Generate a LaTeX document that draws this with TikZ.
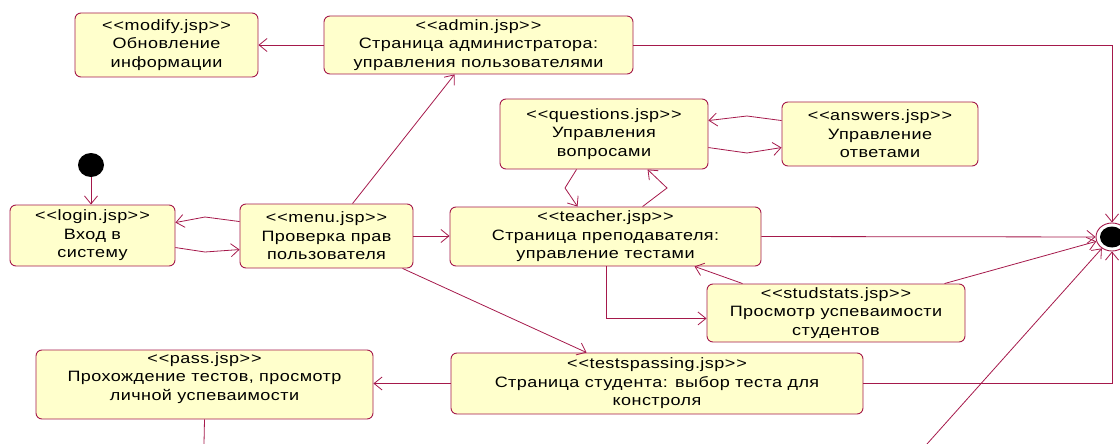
\documentclass[tikz,border=0pt]{standalone}
\usepackage{fontspec}
\setmainfont[Ligatures={NoCommon},Mapping=,FakeStretch=1.2,LetterSpace=3]{Liberation Sans}
\usetikzlibrary{arrows.meta,shapes.geometric,calc}
\definecolor{umlred}{RGB}{165,25,75}
\definecolor{umlfill}{RGB}{255,255,204}
\newcommand{\stereo}[1]{<\kern1pt<#1>\kern1pt>}
\begin{document}
\begin{tikzpicture}[x=1pt,y=-1pt,
  statebox/.style={draw=umlred, fill=umlfill, rounded corners=6pt, line width=0.9pt,
    align=center, inner sep=0pt, font=\fontsize{15}{18.5}\selectfont},
  conn/.style={draw=umlred, line width=0.8pt},
  arr/.style={conn, -{Straight Barb[length=8pt,width=13pt,line width=0.8pt]}}]
\useasboundingbox (0,0) rectangle (1120,444);

\node[statebox, minimum width=183pt, minimum height=64pt] (modify) at (166.5,45)
  {\stereo{modify.jsp}\\Обновление\\информации};
\node[statebox, minimum width=309pt, minimum height=58pt] (admin) at (478.5,45)
  {\stereo{admin.jsp}\\Страница администратора:\\управления пользователями};
\node[statebox, minimum width=208pt, minimum height=70pt] (questions) at (604,134)
  {\stereo{questions.jsp}\\Управления\\вопросами};
\node[statebox, minimum width=196pt, minimum height=64pt] (answers) at (880,134)
  {\stereo{answers.jsp}\\Управление\\ответами};
\node[statebox, minimum width=165pt, minimum height=61pt] (login) at (92.5,235.5)
  {\stereo{login.jsp}\\Вход в\\систему};
\node[statebox, minimum width=173pt, minimum height=64pt] (menu) at (326.5,236)
  {\stereo{menu.jsp}\\Проверка прав\\пользователя};
\node[statebox, minimum width=311pt, minimum height=59pt] (teacher) at (605.5,236.5)
  {\stereo{teacher.jsp}\\Страница преподавателя:\\управление тестами};
\node[statebox, minimum width=258pt, minimum height=58pt] (studstats) at (836,313)
  {\stereo{studstats.jsp}\\Просмотр успеваимости\\студентов};
\node[statebox, minimum width=337pt, minimum height=69pt] (pass) at (204.5,384.5)
  {\stereo{pass.jsp}\\Прохождение тестов, просмотр\\личной успеваимости\\[-2pt]};
\node[statebox, minimum width=412pt, minimum height=61pt] (testspassing) at (657,383.5)
  {\stereo{testspassing.jsp}\\Страница студента: выбор теста для\\констроля};

\node[ellipse, fill=black, minimum width=26pt, minimum height=24pt, inner sep=0pt] (init) at (91,165) {};
\node[ellipse, draw=umlred, fill=white, line width=0.9pt, minimum width=32pt, minimum height=28pt, inner sep=0pt] (final) at (1112,237) {};
\fill[black] (final.center) ellipse [x radius=12pt, y radius=10.5pt];

\coordinate (b1) at (204,444);
\coordinate (b2) at (927,444);

% connectors
\draw[arr] (init) -- (login.north -| init);
\draw[arr] (admin.west) -- (modify.east);
\draw[arr] (admin.east) -| (final.north);
\draw[arr] (testspassing.east) -| (final.south);
\draw[arr] (teacher.east) -- (final);
\draw[arr] ($(studstats.north west)+(238,0)$) -- (final);
\draw[arr] (b2) -- (final);
\draw[arr] ($(menu.north west)+(0,18)$) -- (205,217) -- ($(login.north east)+(0,18)$);
\draw[arr] ($(login.north east)+(0,43)$) -- (205,252) -- ($(menu.north west)+(0,46)$);
\draw[arr] (menu.east) -- (menu.east -| teacher.west);
\draw[arr] ($(menu.north west)+(113,0)$) -- ($(admin.south west)+(131,0)$);
\draw[arr] ($(menu.south west)+(163,0)$) -- ($(testspassing.north west)+(136,0)$);
\draw[arr] (testspassing.west) -- (testspassing.west -| pass.east);
\draw[conn] (pass.south) -- (b1);
\draw[arr] ($(questions.south west)+(77,0)$) -- (565,188) -- ($(teacher.north west)+(128,0)$);
\draw[arr] ($(teacher.north west)+(193,0)$) -- (667,188) -- ($(questions.south west)+(148,0)$);
\draw[arr] ($(teacher.south west)+(157,0)$) |- ($(studstats.south west)+(0,-24)$);
\draw[arr] ($(studstats.north west)+(36,0)$) -- ($(teacher.south west)+(245,0)$);
\draw[arr] ($(answers.north west)+(0,19)$) -- (747,116) -- ($(questions.north east)+(0,22)$);
\draw[arr] ($(questions.north east)+(0,49)$) -- (747,153) -- ($(answers.north west)+(0,46)$);
\end{tikzpicture}
\end{document}
